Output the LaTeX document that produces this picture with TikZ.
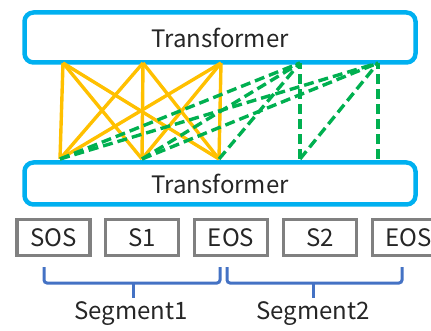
\documentclass[tikz,border=0pt]{standalone}
\usepackage{fontspec}
\setmainfont{Noto Sans CJK JP}
\usetikzlibrary{positioning}
\definecolor{tfblue}{HTML}{00B0F0}
\definecolor{tokgray}{HTML}{808080}
\definecolor{attyellow}{HTML}{FFC000}
\definecolor{attgreen}{HTML}{00B050}
\definecolor{brblue}{HTML}{4472C4}
\tikzset{
  tfbox/.style={draw=tfblue, line width=4.5pt, rounded corners=9pt, fill=white,
    minimum width=391pt, font=\fontsize{24}{28}\selectfont, text=black!85},
  token/.style={draw=tokgray, line width=3.3pt, minimum width=73pt, minimum height=36pt,
    inner sep=0pt, font=\fontsize{24}{28}\selectfont, text=black!85},
  fullatt/.style={attyellow, line width=3.4pt},
  causatt/.style={attgreen, line width=3.4pt, dash pattern=on 10pt off 5pt},
  segbrace/.style={brblue, line width=3pt, rounded corners=3pt},
  seglabel/.style={font=\fontsize{24}{28}\selectfont, text=black!85}
}
\begin{document}
\begin{tikzpicture}[x=1pt, y=-1pt]
\useasboundingbox (0,0) rectangle (431,331);
% transformer layers
\node (upper) [tfbox, minimum height=50pt] at (220,37.5) {Transformer};
\node (lower) [tfbox, minimum height=42pt] at (220,183.5) {Transformer};
% input tokens
\node (sos) [token] at (53.5,237.5) {SOS};
\node (s1) [token, right=12.5pt of sos] {S1};
\node (eos1) [token, right=12.5pt of s1] {EOS};
\node (s2) [token, right=12.5pt of eos1] {S2};
\node (eos2) [token, right=12.5pt of s2] {EOS};
% attachment points
\foreach \i/\xt/\xb in {1/63/60, 2/143/142, 3/221/219, 4/300/300, 5/378/378} {
  \coordinate (t\i) at (\xt,63);
  \coordinate (b\i) at (\xb,159);
}
% segment 1: full attention
\foreach \i in {1,2,3}
  \foreach \j in {1,2,3}
    \draw[fullatt] (b\j) -- (t\i);
% segment 2: dashed attention
\foreach \j in {1,2,3,4}
  \draw[causatt] (b\j) -- (t4);
\foreach \j in {1,2,4,5}
  \draw[causatt] (b\j) -- (t5);
% segment braces
\coordinate (br1) at (133,298);
\coordinate (br2) at (313,298);
\draw[segbrace] (44,267) -- (44,283) -- (220,283) -- (220,267);
\draw[segbrace] (133,283) -- (br1);
\draw[segbrace] (227,267) -- (227,283) -- (402,283) -- (402,267);
\draw[segbrace] (313,283) -- (br2);
\node (seg1) [seglabel] at (131,314) {Segment1};
\node (seg2) [seglabel] at (313,314) {Segment2};
\end{tikzpicture}
\end{document}
